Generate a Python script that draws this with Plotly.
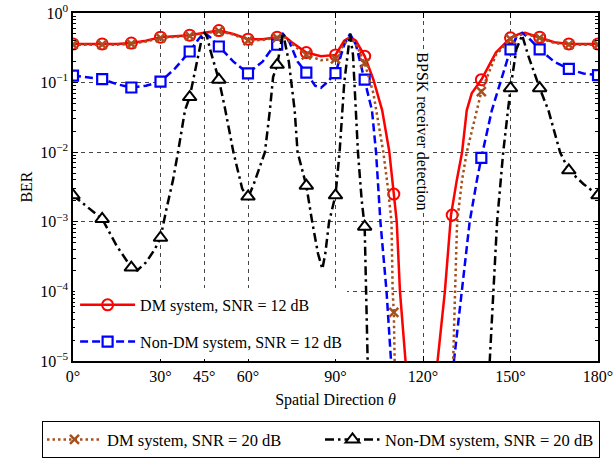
import plotly.graph_objects as go

# ---------------- data ----------------
# marker positions (every 10 degrees); None = below 1e-5 (off chart)
mk_ang = [0, 10, 20, 30, 40, 50, 60, 70, 80, 90, 100, 110, 120, 130, 140, 150, 160, 170, 180]
dm12_mk = [.36, .36, .37, .45, .48, .56, .42, .45, .27, .25, .24, 2.5e-3, None, 1.25e-3, .11, .44, .45, .36, .36]
dm20_mk = [.35, .35, .36, .44, .47, .55, .40, .44, .25, .22, .19, 5e-5, None, None, .074, .42, .44, .35, .35]
ndm12_mk = [.126, .112, .085, .103, .28, .33, .136, .35, .139, .137, .11, None, None, None, 8.3e-3, .30, .30, .157, .128]
ndm20_mk = [2.4e-3, 1.1e-3, 2.2e-4, 5.9e-4, .062, .11, 2.3e-3, .18, 3.3e-3, 2.4e-3, 8.5e-4, None, None, None, None, .083, .083, 5.5e-3, 2.4e-3]

# traced curves
dm12_ang = [0, 5, 10, 15, 20, 25, 30, 35, 40, 45, 50, 55, 60, 65, 70, 72, 75, 80, 85, 90, 93, 95, 97, 100,
            103, 106, 108.4, 110, 111, 112.1, 114, 115, None,
            124, 125, 127.5, 129.6, 131.6, 133.4, 135, 136.7, 140, 145, 150, 153, 155, 160, 165, 170, 175, 180]
dm12_ber = [.36, .36, .36, .36, .37, .40, .45, .47, .48, .52, .56, .50, .42, .42, .45, .48, .38, .27, .24, .25, .40, .45, .40, .24,
            .11, .04, .0105, 2.5e-3, 1e-3, 1e-4, 1e-5, 3e-6, None,
            3e-6, 1e-5, 1e-4, 1.25e-3, 4e-3, 1e-2, .04, .07, .11, .27, .44, .50, .52, .45, .38, .36, .36, .36]

dm20_ang = [0, 5, 10, 15, 20, 25, 30, 35, 40, 45, 50, 55, 60, 65, 70, 72, 75, 80, 85, 90, 93, 95, 97, 100,
            103, 106.4, 108, 109.2, 109.6, 110, 110.4, None,
            130, 130.3, 131, 131.7, 133.4, 135, 140, 145, 150, 153, 155, 160, 165, 170, 175, 180]
dm20_ber = [.35, .35, .35, .35, .36, .39, .44, .46, .47, .51, .55, .49, .40, .41, .44, .47, .36, .25, .21, .22, .36, .44, .36, .19,
            .07, .01, 3e-3, 1e-3, 1e-4, 5e-5, 5e-6, None,
            3e-6, 1e-5, 1e-4, 1e-3, 4e-3, 1e-2, .074, .25, .42, .48, .50, .44, .37, .35, .35, .35]

ndm12_ang = [0, 5, 10, 15, 20, 25, 30, 35, 40, 43, 45, 47, 50, 55, 60, 65, 68, 70, 72, 74, 77, 80, 83, 85, 87, 90,
             93, 95, 97, 100, 102.5, 103.9, 104.6, 105.4, 107.5, 109, 109.5, None,
             130, 130.6, 133.3, 136, 138.5, 140, 143.6, 146.4, 150, 152, 154, 156, 160, 165, 170, 175, 180]
ndm12_ber = [.126, .118, .112, .095, .085, .09, .103, .16, .28, .42, .52, .45, .33, .2, .136, .2, .3, .35, .5, .4, .2, .139, .09, .084, .1, .137,
             .35, .5, .35, .11, .04, .01, 3.5e-3, 1e-3, 1e-4, 1e-5, 5e-6, None,
             3e-6, 1e-5, 1e-4, 1e-3, 4e-3, 8.3e-3, .04, .1, .3, .45, .52, .45, .3, .2, .157, .135, .128]

ndm20_ang = [0, 5, 10, 15, 20, 22, 25, 28, 30, 32, 34.3, 36, 38.4, 40, 42, 44, 45, 46, 47, 50, 52, 55, 58, 60, 62, 64,
             65.8, 67.5, 68.6, 70, 72, 74, 76, 77, 80, 82, 84, 85.5, 86.5, 87.8, 90, 91.4, 93, 95, 96, 97.7, 99, 100,
             100.4, 101, 101.3, None,
             142.5, 143, 144, 145.4, 147.5, 150, 152, 154, 156, 160, 163, 167, 170, 175, 180]
ndm20_ber = [2.4e-3, 1.6e-3, 1.1e-3, 4.5e-4, 2.2e-4, 2.0e-4, 2.6e-4, 4e-4, 5.9e-4, 1.5e-3, 4e-3, 1e-2, .04, .062, .15, .4, .53, .45, .3, .11, .045, .01, 3e-3, 2.2e-3, 3.5e-3, 6e-3,
             1e-2, .04, .12, .18, .52, .2, .04, .01, 3.3e-3, 1e-3, 3.5e-4, 2.1e-4, 3.5e-4, 1e-3, 2.4e-3, 1e-2, .1, .5, .25, .01, 2e-3, 8.5e-4,
             1e-4, 1e-5, 3e-6, None,
             5e-6, 1.3e-5, 1e-4, 1e-3, 1e-2, .083, .3, .48, .25, .083, .04, .01, 5.5e-3, 3.5e-3, 2.4e-3]

x_ticks = [0, 30, 45, 60, 90, 120, 150, 180]
x_labels = ["0°", "30°", "45°", "60°", "90°", "120°", "150°", "180°"]
y_ticks = [1, 1e-1, 1e-2, 1e-3, 1e-4, 1e-5]
y_labels = ["10<sup>0</sup>", "10<sup>−1</sup>", "10<sup>−2</sup>", "10<sup>−3</sup>", "10<sup>−4</sup>", "10<sup>−5</sup>"]

names = ["DM system, SNR = 12 dB", "Non-DM system, SNR = 12 dB",
         "DM system, SNR = 20 dB", "Non-DM system, SNR = 20 dB"]

# ---------------- styles ----------------
FONT = "Liberation Serif"
F16 = dict(family=FONT, size=16, color="black")
RED, BLUE, BROWN, BLACK = "#FF0000", "#0000FF", "#A5501E", "#000000"

series = [
    (names[0], dm12_ang, dm12_ber, dm12_mk, RED, "solid",
     dict(symbol="circle-open", size=11, color=RED, line=dict(color=RED, width=2)), "legend"),
    (names[1], ndm12_ang, ndm12_ber, ndm12_mk, BLUE, "8px,4px",
     dict(symbol="square", size=10, color="white", line=dict(color=BLUE, width=2.2)), "legend"),
    (names[2], dm20_ang, dm20_ber, dm20_mk, BROWN, "2.5px,3px",
     dict(symbol="x-thin", size=9, color=BROWN, line=dict(color=BROWN, width=2.5)), "legend2"),
    (names[3], ndm20_ang, ndm20_ber, ndm20_mk, BLACK, "9px,4px,2.5px,4px",
     dict(symbol="triangle-up", size=12, color="white", line=dict(color=BLACK, width=2)), "legend2"),
]

fig = go.Figure()
for i, (nm, xa, ya, ym, col, dash, mk, lg) in enumerate(series):
    fig.add_trace(go.Scatter(x=xa, y=ya, mode="lines", line=dict(color=col, width=2.5, dash=dash),
                             connectgaps=False, showlegend=False, hoverinfo="skip"))
    fig.add_trace(go.Scatter(x=mk_ang, y=ym, mode="markers", marker=mk, showlegend=False))
    # legend entry (placed off the visible range)
    fig.add_trace(go.Scatter(x=[-1000], y=[1], mode="lines+markers", name=nm,
                             line=dict(color=col, width=2.5, dash=dash), marker=mk,
                             legend=lg, legendgroup=f"g{i}", showlegend=True))

grid_color = "rgb(70,70,70)"
minor_vals = [k * 10 ** e for e in range(-5, 0) for k in range(2, 10)]

fig.update_layout(
    width=614, height=461,
    margin=dict(l=73, r=16, t=13, b=100, autoexpand=False),
    paper_bgcolor="white", plot_bgcolor="white",
    font=F16,
    xaxis=dict(range=[0, 180], tickmode="array", tickvals=x_ticks, ticktext=x_labels,
               tickfont=F16, automargin=False,
               showgrid=True, gridcolor=grid_color, griddash="4px,4px", gridwidth=1.2,
               ticks="inside", ticklen=5, tickcolor="black",
               showline=True, linecolor="black", linewidth=1.5, mirror="ticks",
               zeroline=False,
               title=dict(text="Spatial Direction <i>θ</i>", font=F16, standoff=10)),
    yaxis=dict(type="log", range=[-5, 0], tickmode="array", tickvals=y_ticks, ticktext=y_labels,
               tickfont=F16, automargin=False,
               showgrid=True, gridcolor=grid_color, griddash="4px,4px", gridwidth=1.2,
               ticks="inside", ticklen=5, tickcolor="black",
               minor=dict(tickmode="array", tickvals=minor_vals, ticks="inside", ticklen=3,
                          tickcolor="black", showgrid=False),
               showline=True, linecolor="black", linewidth=1.5, mirror="ticks",
               zeroline=False,
               title=dict(text="BER", font=F16, standoff=4)),
    legend=dict(x=0.004, y=0.006, xanchor="left", yanchor="bottom",
                bgcolor="white", borderwidth=0, font=F16,
                itemwidth=55, traceorder="grouped", tracegroupgap=13),
    legend2=dict(xref="paper", yref="paper", x=(42 - 73) / 525, y=(361 - 421) / 348,
                 xanchor="left", yanchor="top", orientation="h",
                 bgcolor="white", bordercolor="black", borderwidth=1.2,
                 font=dict(family=FONT, size=16.5, color="black"),
                 itemwidth=55, entrywidth=208),
    annotations=[dict(x=120, y=-1.70, xref="x", yref="y", text="BPSK receiver detection",
                      textangle=90, showarrow=False, bgcolor="white", font=F16)],
)

fig.write_html("out.html", config={"displayModeBar": False},
               post_script="document.body.style.margin='0';document.body.style.padding='0';")
